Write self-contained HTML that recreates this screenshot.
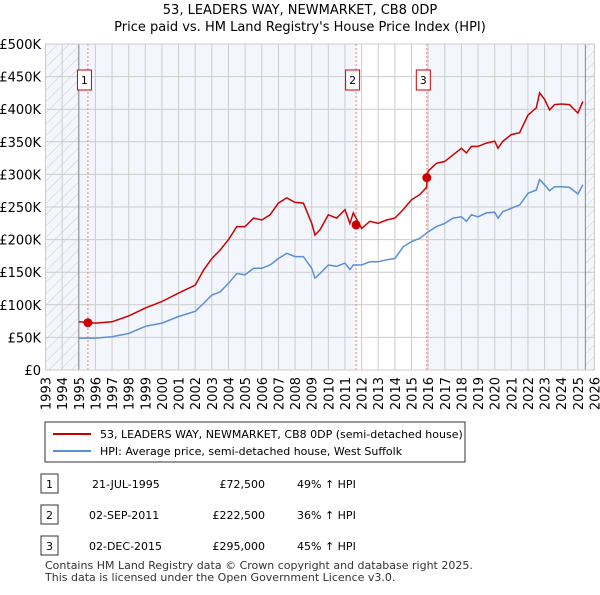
<!DOCTYPE html>
<html><head><meta charset="utf-8"><style>
body{margin:0;background:#fff;font-family:"Liberation Sans","DejaVu Sans",sans-serif;}
svg text{font-family:"DejaVu Sans","Liberation Sans",sans-serif;}
</style></head><body>
<svg id="c" width="600" height="590" xmlns="http://www.w3.org/2000/svg">
<defs><pattern id="h" width="8" height="8" patternUnits="userSpaceOnUse" patternTransform="rotate(45)"><line x1="0" y1="0" x2="0" y2="8" stroke="#ccc" stroke-width="1"/></pattern></defs>
<text x="300" y="14" text-anchor="middle" font-size="13">53, LEADERS WAY, NEWMARKET, CB8 0DP</text>
<text x="300" y="31" text-anchor="middle" font-size="13">Price paid vs. HM Land Registry's House Price Index (HPI)</text>
<g id="plot"></g>
<g>
<rect x="45" y="422" width="420" height="40" fill="#fff" stroke="#333"/>
<line x1="53" y1="434" x2="91" y2="434" stroke="#c00" stroke-width="2"/>
<text x="100" y="438" font-size="11">53, LEADERS WAY, NEWMARKET, CB8 0DP (semi-detached house)</text>
<line x1="53" y1="451" x2="91" y2="451" stroke="#5b8fd4" stroke-width="2"/>
<text x="100" y="455" font-size="11">HPI: Average price, semi-detached house, West Suffolk</text>
</g>
<g font-size="11">
<rect x="41" y="474" width="17" height="19" fill="#fff" stroke="#333"/><text x="49.5" y="488" text-anchor="middle">1</text>
<text x="92" y="488">21-JUL-1995</text><text x="265" y="488" text-anchor="end">£72,500</text><text x="297" y="488">49% ↑ HPI</text>
<rect x="41" y="505" width="17" height="19" fill="#fff" stroke="#333"/><text x="49.5" y="519" text-anchor="middle">2</text>
<text x="89" y="519">02-SEP-2011</text><text x="265" y="519" text-anchor="end">£222,500</text><text x="297" y="519">36% ↑ HPI</text>
<rect x="41" y="536" width="17" height="19" fill="#fff" stroke="#333"/><text x="49.5" y="550" text-anchor="middle">3</text>
<text x="89" y="550">02-DEC-2015</text><text x="265" y="550" text-anchor="end">£295,000</text><text x="297" y="550">45% ↑ HPI</text>
</g>
<text x="45" y="569" font-size="11" fill="#333">Contains HM Land Registry data © Crown copyright and database right 2025.</text>
<text x="45" y="581" font-size="11" fill="#333">This data is licensed under the Open Government Licence v3.0.</text>
</svg>
<script>
const times=[1995,1996,1997,1998,1999,2000,2001,2002,2002.5,2003,2003.5,2004,2004.5,2005,2005.5,2006,2006.5,2007,2007.5,2008,2008.5,2009,2009.2,2009.5,2010,2010.5,2011,2011.3,2011.5,2012,2012.5,2013,2013.5,2014,2014.5,2015,2015.5,2015.9,2016,2016.5,2017,2017.5,2018,2018.3,2018.6,2019,2019.5,2020,2020.2,2020.5,2021,2021.5,2022,2022.5,2022.7,2023,2023.3,2023.6,2024,2024.5,2025,2025.3];
const priceK=[74,72,74,83,95,105,118,130,153,171,184,200,220,220,233,230,238,256,264,257,256,225,207,215,238,233,246,225,241,217,228,225,230,233,246,261,269,280,305,317,320,330,340,333,343,343,348,351,340,351,361,364,391,402,425,415,399,407,408,407,394,412];
const hpiK=[49,49,51,56,67,72,82,90,102,115,120,133,148,146,156,156,161,171,179,174,174,156,141,148,161,159,164,154,161,161,166,166,169,171,189,197,202,210,212,220,225,233,235,228,238,235,241,242,233,243,248,253,271,276,292,284,275,281,281,280,270,284];
const saleDates=[1995.55,2011.67,2015.92];
const salePricesK=[72.5,222.5,295];
const saleLabels=["1","2","3"];
const yTicksK=[0,50,100,150,200,250,300,350,400,450,500];
const NS="http://www.w3.org/2000/svg";
const L=45.5,R=594.5,T=44,B=370,X0=1993,X1=2026;
const xs=t=>L+(t-X0)/(X1-X0)*(R-L);
const ys=v=>B-v/500*(B-T);
const g=document.getElementById('plot');
function mk(tag,a){const e=document.createElementNS(NS,tag);for(const k in a)e.setAttribute(k,a[k]);g.appendChild(e);return e;}
let e;
e=mk('rect',{x:L,y:T,width:R-L,height:B-T,fill:'#f3f6fd'});


e=mk('rect',{x:xs(saleDates[1]),y:T,width:xs(saleDates[2])-xs(saleDates[1]),height:B-T,fill:'#fff'});


e=mk('rect',{x:L,y:T,width:xs(1995)-L,height:B-T,fill:'url(#h)'});


e=mk('rect',{x:xs(2025.45),y:T,width:R-xs(2025.45),height:B-T,fill:'url(#h)'});


for(let y=X0;y<=X1;y++){
 e=mk('line',{x1:xs(y),x2:xs(y),y1:T,y2:B,stroke:'#ccc','stroke-width':1});
 
 
 e=mk('text',{x:0,y:0,'font-size':13,'text-anchor':'end',transform:`translate(${xs(y)+5},377) rotate(-90)`});
 e.textContent=y;
 
 
}
yTicksK.forEach(v=>{
 e=mk('line',{x1:L,x2:R,y1:ys(v),y2:ys(v),stroke:'#ccc','stroke-width':1});
 
 
 e=mk('text',{x:41,y:ys(v)+5,'font-size':13,'text-anchor':'end'});
 e.textContent=v===0?'£0':'£'+v+'K';
 
 
});
e=mk('line',{x1:xs(1995),x2:xs(1995),y1:T,y2:B,stroke:'#888'});


e=mk('line',{x1:xs(2025.45),x2:xs(2025.45),y1:T,y2:B,stroke:'#888'});


saleDates.forEach((d,i)=>{
 e=mk('line',{x1:xs(d),x2:xs(d),y1:T,y2:B,stroke:'#f77','stroke-dasharray':'2,2'});
 
 
});
e=mk('path',{d:times.map((t,i)=>(i?'L':'M')+xs(t).toFixed(1)+','+ys(hpiK[i]).toFixed(1)).join(''),fill:'none',stroke:'#5b8fd4','stroke-width':1.5});


e=mk('path',{d:times.map((t,i)=>(i?'L':'M')+xs(t).toFixed(1)+','+ys(priceK[i]).toFixed(1)).join(''),fill:'none',stroke:'#c00','stroke-width':1.5});


saleDates.forEach((d,i)=>{
 e=mk('circle',{cx:xs(d),cy:ys(salePricesK[i]),r:4.5,fill:'#c00'});
 
 
 const bx=xs(d)-3.5;
 e=mk('rect',{x:bx-7,y:70,width:14,height:20,fill:'#fff',stroke:'#c00'});
 
 
 e=mk('text',{x:bx,y:84,'font-size':11,'text-anchor':'middle'});
 e.textContent=saleLabels[i];
 
 
});
e=mk('rect',{x:L,y:T,width:R-L,height:B-T,fill:'none',stroke:'#ccc'});


</script>
</body></html>
